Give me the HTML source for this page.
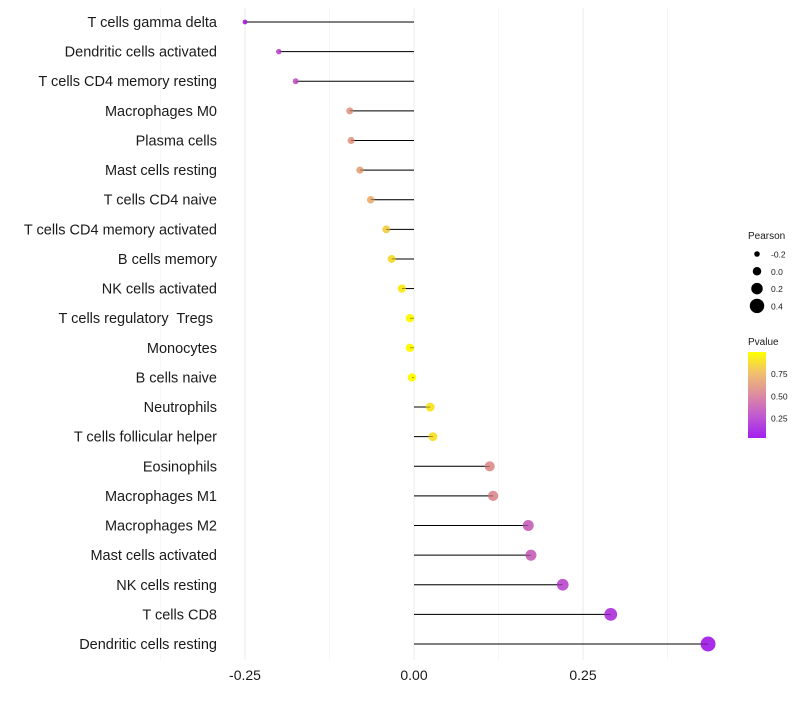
<!DOCTYPE html>
<html><head><meta charset="utf-8"><style>
body{margin:0;background:#fff;font-family:"Liberation Sans",sans-serif}
svg text{font-family:"Liberation Sans",sans-serif;white-space:pre}
</style></head><body>
<svg id="chart" width="800" height="700"></svg>
<script>
const categories=["T cells gamma delta","Dendritic cells activated","T cells CD4 memory resting","Macrophages M0","Plasma cells","Mast cells resting","T cells CD4 naive","T cells CD4 memory activated","B cells memory","NK cells activated","T cells regulatory  Tregs ","Monocytes","B cells naive","Neutrophils","T cells follicular helper","Eosinophils","Macrophages M1","Macrophages M2","Mast cells activated","NK cells resting","T cells CD8","Dendritic cells resting"];
const pearson=[-0.25,-0.2,-0.175,-0.095,-0.093,-0.08,-0.064,-0.041,-0.033,-0.018,-0.006,-0.006,-0.003,0.024,0.028,0.112,0.117,0.169,0.173,0.22,0.291,0.435];
const pvalues=[0.08,0.25,0.3,0.6,0.6,0.65,0.7,0.82,0.87,0.92,0.98,0.98,0.99,0.9,0.88,0.55,0.53,0.35,0.35,0.25,0.15,0.06];
const xTicks=[-0.25,0,0.25];
const xTickLabels=["-0.25","0.00","0.25"];
const sizeLegend=[-0.2,0,0.2,0.4];
const pTicks=[0.25,0.5,0.75];
const NS="http://www.w3.org/2000/svg";
const svg=document.getElementById('chart');
function xs(v){return 414+v*676;}
function ys(i){return 22+i*29.62;}
function rs(v){return 2.4+(v+0.25)*7.4;}
const stops=[[0,[160,32,240]],[0.25,[192,88,210]],[0.5,[220,140,160]],[0.75,[240,190,112]],[1,[255,255,0]]];
function col(p){for(let k=1;k<stops.length;k++){if(p<=stops[k][0]){const a=stops[k-1],b=stops[k];const t=(p-a[0])/(b[0]-a[0]);const c=a[1].map((x,j)=>Math.round(x+(b[1][j]-x)*t));return `rgb(${c})`;}}return 'rgb(255,255,0)';}
function mk(tag,attrs,parent){const e=document.createElementNS(NS,tag);for(const k in attrs)e.setAttribute(k,attrs[k]);(parent||svg).appendChild(e);return e;}
[-0.375,-0.125,0.125,0.375].forEach(v=>{const l=mk('line',{x1:xs(v),x2:xs(v),y1:8,y2:660,stroke:'#f0f0f0','stroke-width':0.6});

});
xTicks.forEach((v,i)=>{const l=mk('line',{x1:xs(v),x2:xs(v),y1:8,y2:660,stroke:'#ebebeb','stroke-width':1});


const t=mk('text',{x:xs(v),y:680,'text-anchor':'middle','font-size':14,fill:'#1a1a1a'});t.textContent=xTickLabels[i];

});
categories.forEach((c,i)=>{const y=ys(i);
const t=mk('text',{x:217,y:y+5,'text-anchor':'end','font-size':14.5,fill:'#1a1a1a','xml:space':'preserve'});t.textContent=c;


const l=mk('line',{x1:xs(0),x2:xs(pearson[i]),y1:y,y2:y,stroke:'#000','stroke-width':1});


const p=mk('circle',{cx:xs(pearson[i]),cy:y,r:rs(pearson[i]),fill:col(pvalues[i])});


const l2=mk('line',{x1:xs(0),x2:xs(pearson[i]),y1:y,y2:y,stroke:'#000','stroke-width':0.6,'stroke-opacity':0.6});

});
const lt=mk('text',{x:748,y:239,'font-size':10,fill:'#1a1a1a'});lt.textContent='Pearson';


sizeLegend.forEach((v,i)=>{const y=254+i*17.3;
const c=mk('circle',{cx:757,cy:y,r:rs(v),fill:'#000'});


const t=mk('text',{x:771,y:y+3.5,'font-size':8.5,fill:'#1a1a1a'});t.textContent=v===0?'0.0':String(v);

});
const pt=mk('text',{x:748,y:345,'font-size':10,fill:'#1a1a1a'});pt.textContent='Pvalue';


const defs=mk('defs',{});const g=mk('linearGradient',{id:'pg',x1:0,y1:1,x2:0,y2:0},defs);
stops.forEach(s=>mk('stop',{offset:s[0],'stop-color':`rgb(${s[1]})`},g));
const bar=mk('rect',{x:748,y:352,width:18,height:86,fill:'url(#pg)'});


pTicks.forEach(v=>{const y=438-(v-0.03)/0.97*86;
const t=mk('text',{x:771,y:y+3,'font-size':8.5,fill:'#1a1a1a'});t.textContent=v.toFixed(2);

});
</script>
</body></html>
